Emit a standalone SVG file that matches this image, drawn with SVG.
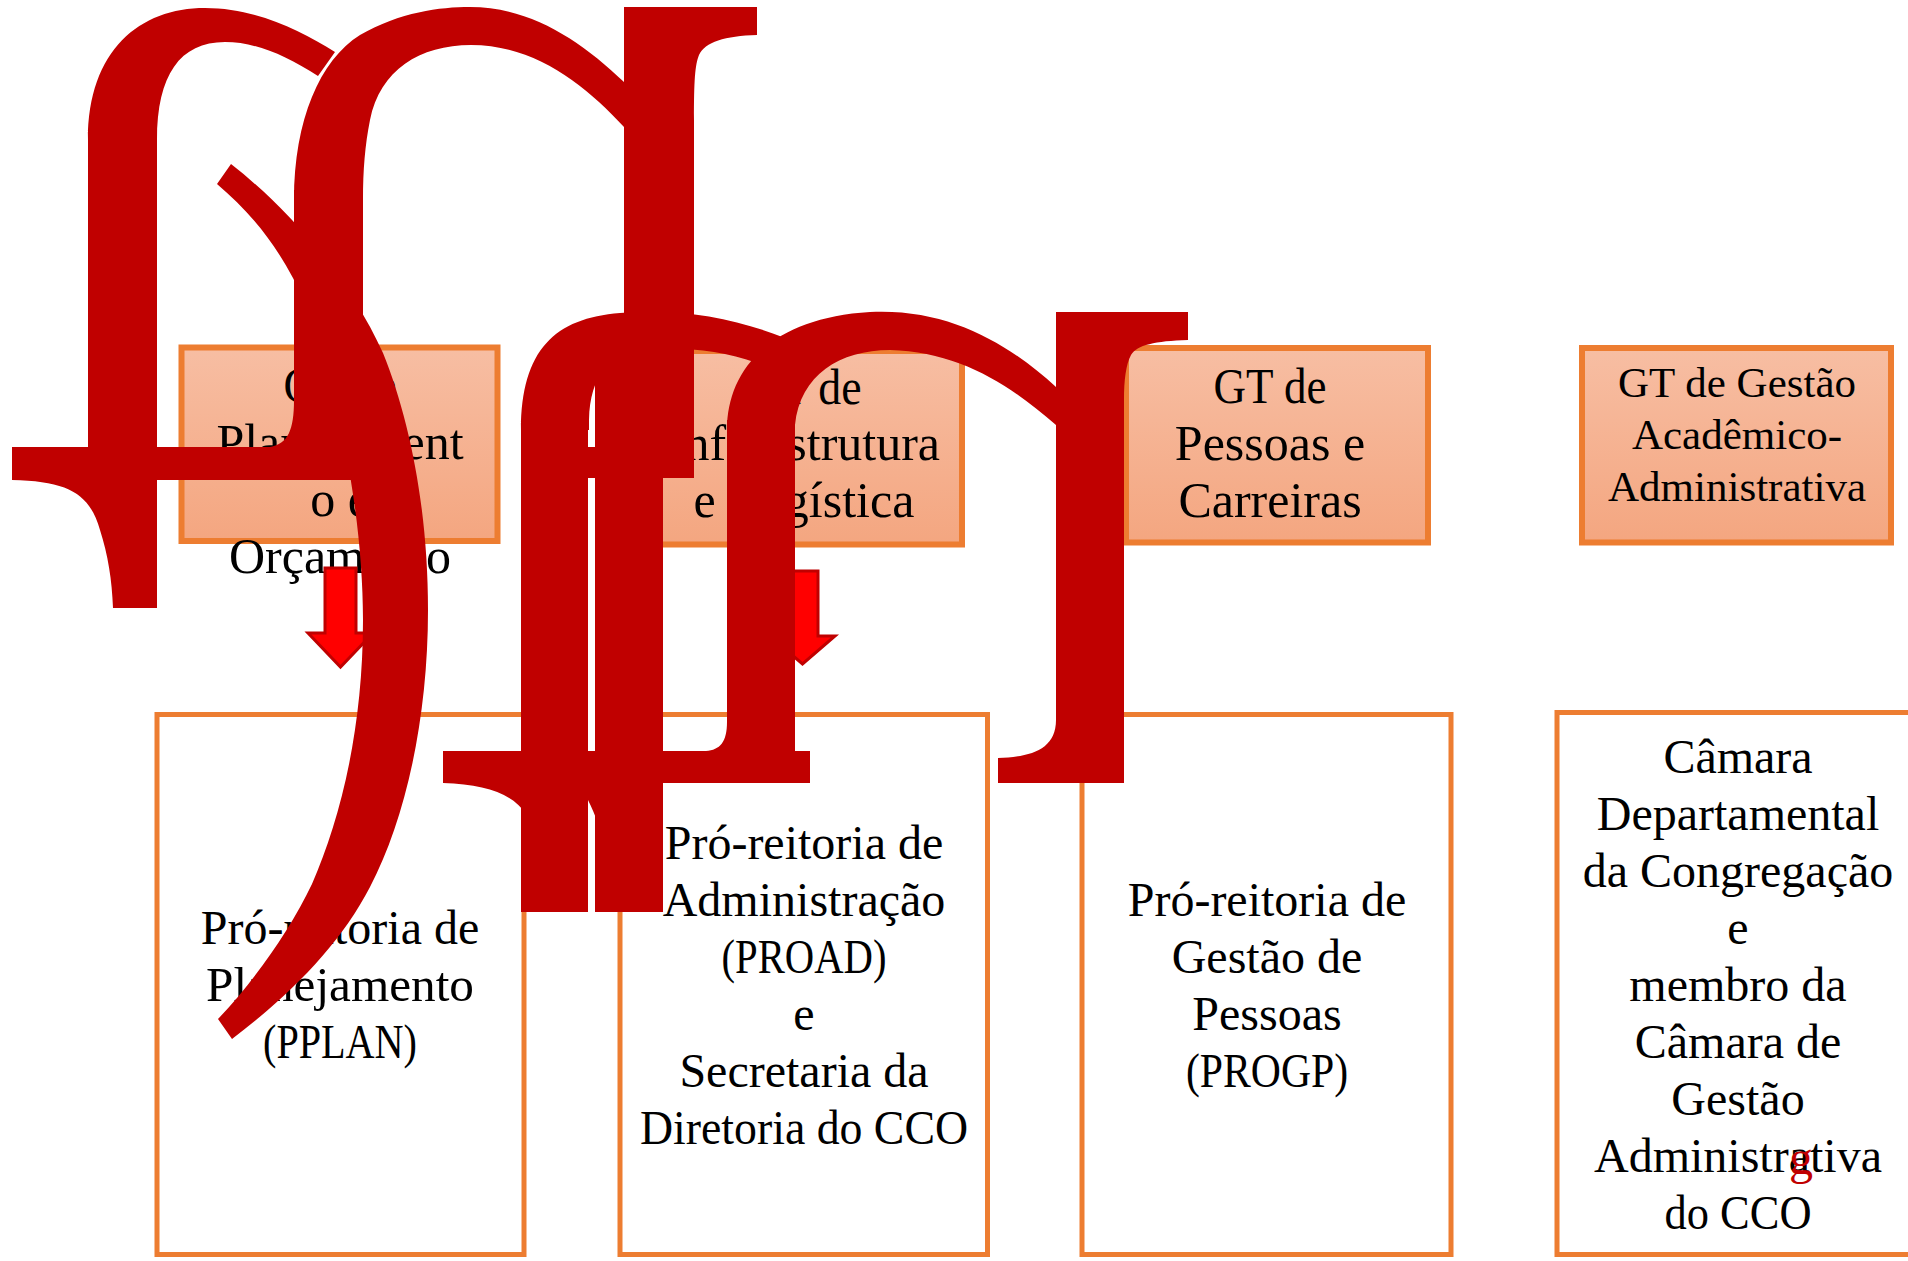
<svg xmlns="http://www.w3.org/2000/svg" width="1908" height="1261" viewBox="0 0 1908 1261">
<defs>
<linearGradient id="gtFill" x1="0" y1="0" x2="0" y2="1">
<stop offset="0" stop-color="#F7BEA3"/>
<stop offset="1" stop-color="#F4A680"/>
</linearGradient>
</defs>
<style>
.gt{fill:url(#gtFill);stroke:#ED7D31;stroke-width:6}
.org{fill:#FFFFFF;stroke:#ED7D31;stroke-width:5}
.t{font-family:"Liberation Serif","Times New Roman",serif;fill:#000;text-anchor:middle}
.t50{font-size:50px}
.t48{font-size:48px}
.t43{font-size:43px}
.arrow{fill:#FF0000;stroke:#C00000;stroke-width:3}
.glyph{fill:#C00000}
</style>
<rect x="0" y="0" width="1908" height="1261" fill="#FFFFFF"/>

<g id="gt-planejamento">
<rect class="gt" x="181.5" y="347.5" width="316" height="193.5"/>
<text class="t t50" x="340" y="402" textLength="113" lengthAdjust="spacingAndGlyphs">GT de</text>
<text class="t t50" x="340" y="459">Planejament</text>
<text class="t t50" x="340" y="516">o e</text>
<text class="t t50" x="340" y="573">Orçamento</text>
</g>
<g id="gt-infraestrutura">
<rect class="gt" x="646" y="351" width="316" height="193.5"/>
<text class="t t50" x="804" y="404" textLength="115" lengthAdjust="spacingAndGlyphs">GT de</text>
<text class="t t50" x="804" y="460">Infraestrutura</text>
<text class="t t50" x="804" y="517">e Logística</text>
</g>
<g id="gt-pessoas">
<rect class="gt" x="1126" y="348" width="302" height="194.5"/>
<text class="t t50" x="1270" y="403" textLength="113" lengthAdjust="spacingAndGlyphs">GT de</text>
<text class="t t50" x="1270" y="460">Pessoas e</text>
<text class="t t50" x="1270" y="517">Carreiras</text>
</g>
<g id="gt-gestao">
<rect class="gt" x="1582" y="348" width="309" height="194.5"/>
<text class="t t43" x="1737" y="397">GT de Gestão</text>
<text class="t t43" x="1737" y="449">Acadêmico-</text>
<text class="t t43" x="1737" y="501">Administrativa</text>
</g>

<g id="pplan">
<rect class="org" x="157" y="714.5" width="367" height="540"/>
<text class="t t48" x="340" y="944">Pró-reitoria de</text>
<text class="t t48" x="340" y="1001" textLength="268" lengthAdjust="spacingAndGlyphs">Planejamento</text>
<text class="t t48" x="340" y="1058" textLength="154" lengthAdjust="spacingAndGlyphs">(PPLAN)</text>
</g>
<g id="proad">
<rect class="org" x="620" y="714.5" width="367.5" height="540"/>
<text class="t t48" x="804" y="859">Pró-reitoria de</text>
<text class="t t48" x="804" y="916">Administração</text>
<text class="t t48" x="804" y="973" textLength="165" lengthAdjust="spacingAndGlyphs">(PROAD)</text>
<text class="t t48" x="804" y="1030">e</text>
<text class="t t48" x="804" y="1087">Secretaria da</text>
<text class="t t48" x="804" y="1144" textLength="328" lengthAdjust="spacingAndGlyphs">Diretoria do CCO</text>
</g>
<g id="progp">
<rect class="org" x="1082" y="714.5" width="369" height="540"/>
<text class="t t48" x="1267" y="916">Pró-reitoria de</text>
<text class="t t48" x="1267" y="973">Gestão de</text>
<text class="t t48" x="1267" y="1030">Pessoas</text>
<text class="t t48" x="1267" y="1087" textLength="162" lengthAdjust="spacingAndGlyphs">(PROGP)</text>
</g>
<g id="camara">
<rect class="org" x="1557" y="712.5" width="369" height="542"/>
<text class="t t48" x="1738" y="773">Câmara</text>
<text class="t t48" x="1738" y="830">Departamental</text>
<text class="t t48" x="1738" y="887">da Congregação</text>
<text class="t t48" x="1738" y="944">e</text>
<text class="t t48" x="1738" y="1001">membro da</text>
<text class="t t48" x="1738" y="1058">Câmara de</text>
<text class="t t48" x="1738" y="1115">Gestão</text>
<text class="t t48" x="1738" y="1172">Administrativa</text>
<text class="t t48" x="1738" y="1229" textLength="147" lengthAdjust="spacingAndGlyphs">do CCO</text>
</g>

<g id="connectors">
<path class="arrow" d="M325,568 L356,568 L356,633 L373,633 L340.5,667 L308,633 L325,633 Z"/>
<path class="arrow" d="M787,571 L818,571 L818,636 L835,636 L802.5,664 L770,636 L787,636 Z"/>
</g>

<g id="artifacts" class="glyph">
<path d="M88,140 C88,50 140,8 205,8 C255,8 300,30 335,52 L318,76 C285,55 255,42 225,42 C180,42 157,75 157,140 Z"/>
<rect x="88" y="130" width="69" height="350"/>
<path d="M12,447 L157,447 L157,608 L113,608 C112,580 108,555 100,530 C90,495 70,481 12,480 Z"/>
<rect x="12" y="447" width="390" height="33"/>
<path d="M294,200 C294,120 320,60 360,35 C400,12 440,7 470,7 C530,7 580,40 624,82 L624,127 C585,85 535,45 471,45 C420,45 380,70 370,120 C365,145 363,170 363,200 Z"/>
<rect x="294" y="190" width="69" height="290"/>
<path d="M294,400 C294,430 288,444 270,447 L294,447 Z"/>
<path d="M624,7 L757,7 L757,35 C725,36 705,42 699,55 C695,65 694,80 694,120 L694,478 L624,478 Z"/>
<rect x="580" y="447" width="114" height="31"/>
<path d="M231,164 C290,210 350,280 383,353 C410,420 428,510 428,610 C428,720 405,820 370,887 C340,945 290,995 232,1039 L218,1019 C255,980 290,930 312,884 C340,820 363,730 363,620 C363,500 330,350 293,278 C270,235 245,208 217,184 Z"/>

<path d="M521,430 C521,350 555,318 620,313 C680,308 735,318 785,338 L757,363 C720,350 680,346 640,350 C610,354 590,375 589,420 L589,430 Z"/>
<rect x="521" y="420" width="67" height="492"/>
<rect x="595" y="352" width="68" height="560"/>
<rect x="443" y="751" width="367" height="32"/>
<path d="M443,783 C500,785 528,800 537,840 C542,865 545,890 545,912 L521,912 L521,783 Z"/>
<path d="M588,783 L588,800 C603,830 614,870 619,912 L595,912 L595,783 Z"/>
<path d="M727,430 C727,370 770,318 870,312 C950,308 1010,345 1056,387 L1056,425 C1010,385 960,352 890,350 C840,350 800,375 795,425 L795,430 Z"/>
<rect x="727" y="420" width="68" height="363"/>
<path d="M727,722 C727,742 720,750 706,751 L727,751 Z"/>
<path d="M1056,312 L1188,312 L1188,340 C1155,341 1137,345 1131,355 C1126,364 1124,380 1124,400 L1124,783 L998,783 L998,758 C1030,757 1056,750 1056,720 Z"/>
</g>
<text id="red-g" x="1789" y="1174" font-family="Liberation Serif, serif" font-size="48" fill="#C00000">g</text>
</svg>
